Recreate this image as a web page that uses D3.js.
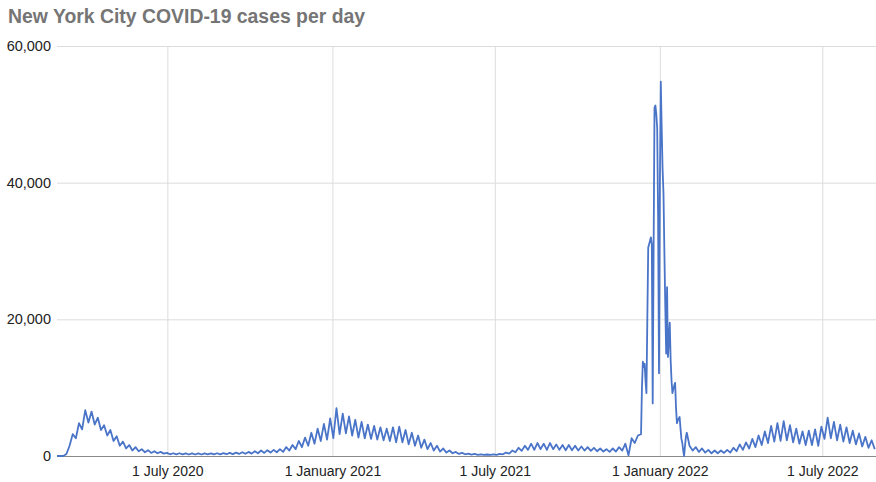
<!DOCTYPE html>
<html><head><meta charset="utf-8">
<script src="https://cdn.jsdelivr.net/npm/d3@7"></script>
<style>
html,body{margin:0;padding:0;background:#fff;}
svg{display:block;font-family:"Liberation Sans",Arial,sans-serif;}
</style></head><body>
<svg id="chart" width="876" height="482"></svg>
<script>
const title = "New York City COVID-19 cases per day";
const yTicks = [0, 20000, 40000, 60000];
const xTickDates = ["2020-07-01", "2021-01-01", "2021-07-01", "2022-01-01", "2022-07-01"];
const xTickLabels = ["1 July 2020", "1 January 2021", "1 July 2021", "1 January 2022", "1 July 2022"];
const xDomain = ["2020-02-29", "2022-08-31"];

// Cases sampled every half week (weekly high / low), Feb 2020 - early Dec 2021
const earlyStart = "2020-02-29";
const earlyHalfWeekly = [
  0,0,0,300,1500,3200,2600,4800,3900,6700,4900,6500,4600,5600,3800,4500,3000,3800,2200,2900,1500,2100,1100,1600,800,1300,700,1000,550,850,450,700,400,600,350,
  450,250,400,250,400,230,380,220,380,220,370,220,380,230,380,230,400,250,420,260,450,280,500,300,550,320,
  600,350,700,400,800,450,850,500,900,550,1000,600,
  1300,800,1600,1000,2200,1300,2700,1500,3400,1800,
  4000,2200,4700,2400,5500,2600,7000,3200,6200,3300,
  5800,3000,5300,2700,5000,2600,4600,2500,4400,2400,
  4200,2300,4000,2200,4200,2000,4300,2000,3800,1700,
  3400,1500,3000,1200,2400,1000,1900,800,1500,650,
  1100,500,800,400,600,300,450,250,350,200,
  300,180,250,150,220,150,250,170,
  300,250,500,350,800,550,1200,750,1500,900,
  1800,900,1900,1000,1800,900,1900,1000,1700,900,
  1600,850,1600,850,1500,800,1400,800,1300,750,
  1200,700,1100,650,1000,600,1100,650,1300,800,
  1800,100,2600,1900,3000
];

// Daily cases through the Omicron wave, 11 Dec 2021 - 31 Jan 2022
const omicronStart = "2021-12-11";
const omicronDaily = [
  3200,10000,13800,13000,13500,11000,9200,20000,30500,31000,
  31500,32000,31000,7700,30000,51000,51300,50000,48000,35000,
  12100,40000,54800,48000,42000,38500,30000,22000,15000,24700,
  14500,17000,19500,14000,11000,9200,9800,10300,10700,7000,
  4800,5200,5500,5700,4000,2500,1900,800,0,1500,
  2800,3400
];

// Half-weekly cases, Feb 2022 - Aug 2022
const lateStart = "2022-02-03";
const lateHalfWeekly = [
  1500,800,1300,600,1100,500,900,400,800,400,
  800,450,900,500,1200,700,1700,900,2000,1100,
  2500,1300,3000,1600,3600,1900,4400,2100,4800,2200,
  5100,2300,4500,2000,4000,1800,3600,1600,3700,1600,
  3900,1500,4300,2500,5600,2600,5000,2300,4600,2100,
  4200,1900,3700,1700,3300,1400,2800,1200,2300,1000
];

const parse = d3.utcParse("%Y-%m-%d");
const DAY = 864e5;
function expand(start, vals, stepDays) {
  const t0 = parse(start).getTime();
  return vals.map((v, i) => ({ date: new Date(t0 + i * stepDays * DAY), value: v }));
}
const data = [
  ...expand(earlyStart, earlyHalfWeekly, 3.5),
  ...expand(omicronStart, omicronDaily, 1),
  ...expand(lateStart, lateHalfWeekly, 3.5)
];

const M = { left: 57, right: 877, top: 46, bottom: 456 };
const svg = d3.select("#chart");
svg.append("rect").attr("width", 876).attr("height", 482).attr("fill", "#fff");

const x = d3.scaleUtc().domain(xDomain.map(parse)).range([M.left, M.right]);
const y = d3.scaleLinear().domain([0, 60000]).range([M.bottom, M.top]);

// X axis with vertical gridlines
const xAxis = svg.append("g")
  .attr("transform", `translate(0,${M.bottom})`)
  .call(d3.axisBottom(x)
    .tickValues(xTickDates.map(parse))
    .tickFormat((d, i) => xTickLabels[i])
    .tickSize(-(M.bottom - M.top))
    .tickPadding(10));
xAxis.select(".domain").remove();
xAxis.selectAll(".tick line").attr("stroke", "#dcdcdc");
xAxis.selectAll(".tick text").attr("font-size", 14).attr("fill", "#222")
  .attr("font-family", "'Liberation Sans', Arial, sans-serif");

// Y axis with horizontal gridlines
const yAxis = svg.append("g")
  .attr("transform", `translate(${M.left},0)`)
  .call(d3.axisLeft(y)
    .tickValues(yTicks)
    .tickFormat(d3.format(","))
    .tickSize(-(M.right - M.left))
    .tickPadding(6));
yAxis.select(".domain").remove();
yAxis.selectAll(".tick line").attr("stroke", d => d === 0 ? "#8a8a8a" : "#dcdcdc");
yAxis.selectAll(".tick text").attr("font-size", 14.5).attr("fill", "#222")
  .attr("font-family", "'Liberation Sans', Arial, sans-serif");

// Data line
const line = d3.line().x(d => x(d.date)).y(d => y(d.value));
svg.append("path")
  .datum(data)
  .attr("fill", "none")
  .attr("stroke", "#4a74c8")
  .attr("stroke-width", 1.8)
  .attr("stroke-linejoin", "round")
  .attr("d", line);

// Title
svg.append("text")
  .attr("x", 8).attr("y", 23)
  .attr("font-size", 19.4).attr("font-weight", "bold")
  .attr("fill", "#757575")
  .text(title);
</script>
</body></html>
